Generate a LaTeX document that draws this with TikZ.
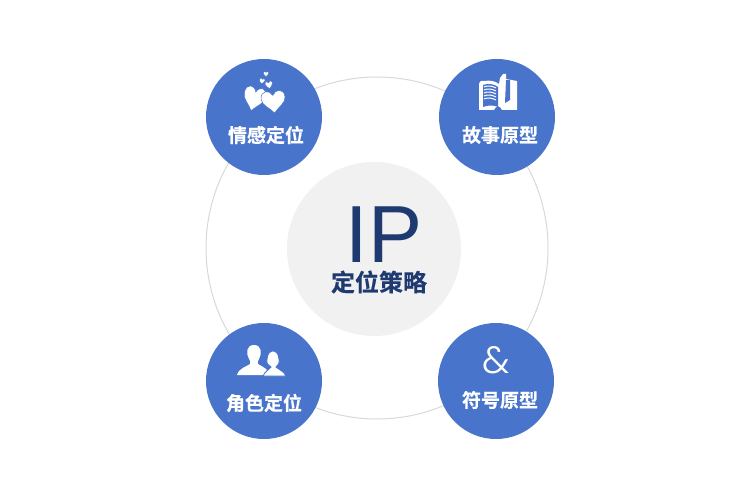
\documentclass[tikz,border=0pt]{standalone}
\usepackage{fontspec}
\setmainfont{Liberation Sans}
\newfontfamily\cjkfont[FakeBold=0.3]{Noto Sans CJK SC Bold}
\newfontfamily\ampfont{Poppins Light}
\definecolor{tileblue}{HTML}{4874CB}
\definecolor{ipnavy}{HTML}{1F3A70}
\definecolor{hubgray}{HTML}{F1F1F1}
\definecolor{ringgray}{HTML}{D9D9D9}
\tikzset{
  tile/.style={circle,fill=tileblue,minimum size=116pt,inner sep=0pt},
  tilelabel/.style={text=white,font=\cjkfont\fontsize{19}{19}\selectfont,inner sep=0pt},
  heartmark/.pic={\path[fill=white,draw=tileblue,line width=.5pt] (0,0.6) .. controls (-0.2,1.15) and (-1,1.2) .. (-1,0.35)
      .. controls (-1,-0.2) and (-0.35,-0.5) .. (0,-1)
      .. controls (0.35,-0.5) and (1,-0.2) .. (1,0.35)
      .. controls (1,1.2) and (0.2,1.15) .. (0,0.6) -- cycle;},
}
\begin{document}
\begin{tikzpicture}[x=1pt,y=-1pt]
  \useasboundingbox[fill=white] (0,0) rectangle (750,489);
  \node[circle,draw=ringgray,line width=1pt,minimum size=342pt,inner sep=0pt] (ring) at (377,248) {};
  \node[circle,fill=hubgray,minimum size=174pt,inner sep=0pt] (hub) at (374,249) {};
  \node[tile] (emotion) at (264,117) {};
  \node[tile] (story) at (497,117) {};
  \node[tile] (role) at (264,381) {};
  \node[tile] (symbol) at (496,381) {};
  % centre text
  \node[text=ipnavy,font=\fontsize{81}{81}\selectfont,inner sep=0pt] (iptext) at (384,235) {IP};
  \node[text=ipnavy,font=\cjkfont\fontsize{24}{24}\selectfont,inner sep=0pt] (hubtext) at (379,282) {定位策略};
  % labels
  \node[tilelabel] (emotiontext) at (266,135) {情感定位};
  \node[tilelabel] (storytext) at (500,135) {故事原型};
  \node[tilelabel] (roletext) at (264,403) {角色定位};
  \node[tilelabel] (symboltext) at (500,400) {符号原型};
  % hearts
  \path (254,99) pic[rotate=-14,x=11pt,y=12pt] {heartmark};
  \path (273.5,102) pic[rotate=6,x=12pt,y=11pt] {heartmark};
  \path (266,74) pic[x=2.8pt,y=2.8pt] {heartmark};
  \path (262,81) pic[rotate=-15,x=3pt,y=3pt] {heartmark};
  \path (269,85) pic[rotate=10,x=3.8pt,y=3.8pt] {heartmark};
  % book
  \fill[white] (479,110) -- (479,84) .. controls (480,80) and (482,81) .. (484,81)
    .. controls (490,80) and (495,81) .. (499,84) -- (500,78) -- (503,74) -- (506,74) -- (506,79)
    -- (517,81) -- (517,110) -- (502,110) .. controls (500,105) and (496,105) .. (494,110) -- cycle;
  \fill[tileblue] (483,107) -- (483,85) .. controls (488,83) and (494,84) .. (498,87)
    -- (498,107) .. controls (494,105) and (488,105) .. (483,107) -- cycle;
  \foreach \linepos in {0,1,2,3,4}
    \draw[white,line width=1pt] (484,87+3*\linepos) .. controls (488,85+3*\linepos) and (492,86+3*\linepos) .. (496,88+3*\linepos);
  \fill[tileblue] (506,80) -- (510,80) -- (510,100) -- (505,103) -- cycle;
  % people
  \fill[white] (237,375) .. controls (239,368) and (246,367) .. (250,364)
    .. controls (251,362) and (250,361) .. (249,359)
    .. controls (246,354) and (246,345) .. (254,345)
    .. controls (262,345) and (262,354) .. (259,359)
    .. controls (258,361) and (257,362) .. (258,364)
    .. controls (263,367) and (268,369) .. (270,375) -- cycle;
  \fill[white,draw=tileblue,line width=.8pt] (263,376) .. controls (265,371) and (269,370) .. (271,367)
    .. controls (269,365) and (266,364) .. (267,360)
    .. controls (267,348) and (279,348) .. (279,360)
    .. controls (280,364) and (277,365) .. (276,367)
    .. controls (279,370) and (284,371) .. (286,376) -- cycle;
  % ampersand
  \node[text=white,font=\ampfont\fontsize{38}{38}\selectfont,inner sep=0pt] (amptext) at (496,360) {\&};
\end{tikzpicture}
\end{document}
